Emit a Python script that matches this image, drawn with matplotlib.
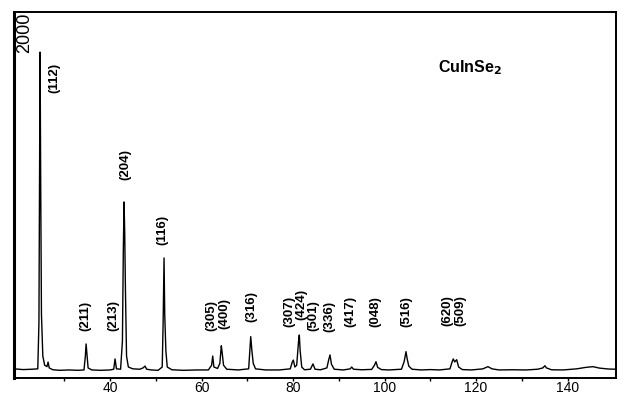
import numpy as np
import matplotlib
matplotlib.use('Agg')
import matplotlib.pyplot as plt
import matplotlib.transforms as mtransforms

# Traced diffraction scan: 2-theta (deg) and counts
two_theta = [
    19.0, 21.0, 23.0, 24.2, 24.45, 24.6, 24.7, 24.85, 25.0, 25.3, 25.7, 26.2,
    26.45, 26.7, 27.5, 29.0, 31.0, 33.0, 34.3, 34.6, 34.76, 34.95, 35.2, 36.0,
    38.0, 40.0, 40.8, 41.09, 41.4, 42.3, 42.7, 42.9, 43.06, 43.2, 43.35, 43.6,
    44.0, 45.0, 46.5, 47.2, 47.65, 48.0, 49.0, 50.5, 51.4, 51.6, 51.8, 51.95,
    52.2, 52.5, 53.5, 56.0, 59.0, 61.5, 62.2, 62.44, 62.7, 63.5, 64.0, 64.32,
    64.5, 64.8, 65.5, 68.0, 70.3, 70.55, 70.75, 71.0, 71.3, 71.8, 74.0, 77.0,
    79.4, 79.8, 80.06, 80.4, 80.8, 81.2, 81.37, 81.55, 81.9, 82.5, 83.8, 84.36,
    84.8, 86.0, 87.4, 87.8, 88.08, 88.4, 89.0, 91.0, 92.5, 92.82, 93.2, 95.0,
    97.2, 97.8, 98.13, 98.5, 99.3, 101.0, 103.7, 104.3, 104.69, 104.95, 105.3,
    106.0, 108.0, 110.0, 112.0, 114.3, 114.8, 115.02, 115.35, 115.77, 116.2,
    117.0, 119.0, 121.5, 122.6, 123.5, 125.0, 128.0, 131.0, 133.5, 134.6,
    135.06, 135.4, 136.5, 139.0, 142.0, 144.0, 145.55, 147.0, 149.0, 150.6,
]
counts = [
    50, 46, 48, 50, 300, 1200, 1781, 1000, 350, 120, 70, 62,
    87, 55, 45, 42, 44, 42, 44, 120, 186, 130, 55, 44,
    42, 44, 48, 104, 50, 48, 200, 700, 962, 800, 500, 120,
    60, 50, 48, 55, 65, 48, 44, 42, 60, 300, 656, 350,
    150, 60, 45, 42, 44, 44, 70, 120, 60, 52, 80, 176,
    140, 70, 48, 44, 50, 150, 226, 150, 80, 50, 44, 44,
    50, 85, 98, 60, 70, 200, 235, 150, 60, 45, 48, 77,
    48, 45, 55, 100, 126, 75, 48, 44, 50, 60, 48, 45,
    47, 70, 89, 58, 46, 44, 48, 90, 144, 105, 65,
    48, 44, 46, 44, 50, 90, 104, 88, 100, 60,
    46, 44, 50, 62, 50, 44, 45, 44, 48, 55,
    67, 55, 45, 44, 50, 58, 62, 54, 49, 48,
]

# Reflection labels and where each one sits (2-theta, counts)
hkl = ['(112)', '(211)', '(213)', '(204)', '(116)', '(305)', '(400)', '(316)',
       '(307)', '(424)', '(501)', '(336)', '(417)', '(048)', '(516)', '(620)',
       '(509)']
label_x = [27.8, 34.55, 40.65, 43.3, 51.4, 62.1, 64.9, 71.0,
           79.1, 81.75, 84.35, 87.85, 92.45, 97.9, 104.7, 113.65, 116.5]
label_y = [1640, 339, 339, 1164, 809, 339, 350, 388,
           361, 404, 339, 339, 361, 361, 361, 366, 366]

xticks = [40, 60, 80, 100, 120, 140]

fig = plt.figure(figsize=(6.19, 3.94), dpi=100)
ax = fig.add_axes([14 / 619, 16 / 394, 602 / 619, 366 / 394])

ax.plot(two_theta, counts, color='black', linewidth=1.0)

for text, x, y in zip(hkl, label_x, label_y):
    ax.text(x, y, text, rotation=90, ha='center', va='center',
            fontsize=9.5, fontweight='bold', family='Liberation Sans')

ax.text(118.7, 1694, r'CuInSe$_\mathbf{2}$', ha='center', va='center',
        fontsize=11.5, fontweight='bold', family='Liberation Sans')

# top y value written inside the frame
trans = mtransforms.blended_transform_factory(ax.transAxes, ax.transData)
ax.text(0.018, 1995, '2000', transform=trans, rotation=90, ha='center',
        va='top', fontsize=13, family='Liberation Sans')

ax.set_xlim(19.0, 150.6)
ax.set_ylim(0, 2000)
ax.set_yticks([])
ax.set_xticks(xticks)
ax.set_xticks(np.arange(30, 150, 10), minor=True)
ax.tick_params(axis='x', which='both', direction='out', length=2, width=1,
               pad=0.5, labelsize=10)
for lab in ax.get_xticklabels():
    lab.set_family('Liberation Sans')

for side in ['top', 'right', 'bottom']:
    ax.spines[side].set_linewidth(1.4)
ax.spines['left'].set_linewidth(2.2)

fig.savefig('out.png', dpi=100)
